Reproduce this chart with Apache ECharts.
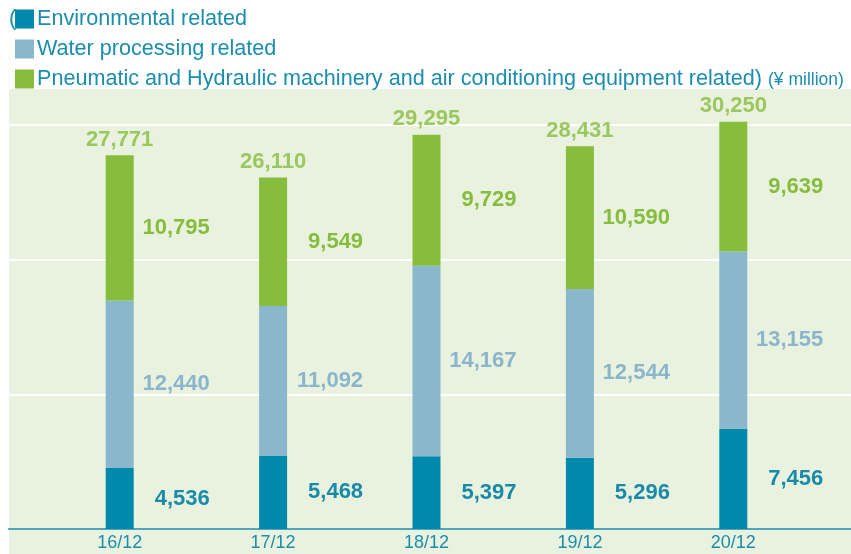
<!DOCTYPE html>
<html>
<head>
<meta charset="utf-8">
<script src="https://cdn.jsdelivr.net/npm/echarts@6/dist/echarts.min.js"></script>
<style>
    html, body { margin: 0; padding: 0; background: #ffffff; }
    #salesChart { width: 851px; height: 554px; }
</style>
</head>
<body>
<div id="salesChart"></div>
<script>
    const categories = ['16/12', '17/12', '18/12', '19/12', '20/12']
    const environmental = [4536, 5468, 5397, 5296, 7456]
    const water = [12440, 11092, 14167, 12544, 13155]
    const pneumatic = [10795, 9549, 9729, 10590, 9639]
    const totals = [27771, 26110, 29295, 28431, 30250]

    const names = [
        'Environmental related',
        'Water processing related',
        'Pneumatic and Hydraulic machinery and air conditioning equipment related'
    ]

    const teal = '#1b8dad'
    const fmt = (v) => Number(v).toLocaleString('en-US')
    const yMax = 32690

    function segLabel (color) {
        return {
            show: true,
            position: 'right',
            distance: 76,
            align: 'right',
            color: color,
            fontSize: 22,
            fontWeight: 'bold',
            fontFamily: 'Liberation Sans, Arial, sans-serif',
            formatter: (p) => fmt(p.value)
        }
    }

    const myChart = echarts.init(document.getElementById('salesChart'))
    const option = {
        animation: false,
        textStyle: { fontFamily: 'Liberation Sans, Arial, sans-serif' },
        graphic: [
            {
                type: 'rect',
                z: -10,
                shape: { x: 9, y: 89, width: 842, height: 465 },
                style: { fill: '#e9f2df' }
            },
            {
                type: 'text',
                left: 9,
                top: 8,
                style: { text: '(', fill: teal, fontSize: 21.6, fontFamily: 'Liberation Sans, Arial, sans-serif' }
            }
        ],
        legend: {
            orient: 'vertical',
            left: 15,
            top: 8,
            padding: 0,
            itemWidth: 19,
            itemHeight: 19,
            itemGap: 8,
            icon: 'rect',
            selectedMode: false,
            data: names,
            textStyle: {
                color: teal,
                fontSize: 21.6,
                lineHeight: 21,
                padding: [0, 0, 0, -2],
                rich: {
                    u: { color: teal, fontSize: 17.5, padding: [3, 0, 0, 0] }
                }
            },
            formatter: (name) => name === names[2] ? name + ') {u|(¥ million)}' : name
        },
        grid: [
            { left: 43, right: 41, top: 89, bottom: 25 },
            { left: 9, right: 0, top: 89, bottom: 25 }
        ],
        xAxis: [
            {
                type: 'category',
                gridIndex: 0,
                data: categories,
                axisLine: { show: false },
                axisTick: { show: false },
                axisLabel: { color: teal, fontSize: 18, margin: 5 }
            },
            {
                type: 'value',
                gridIndex: 1,
                min: 0,
                max: 1,
                axisLine: { show: true, lineStyle: { color: '#4ea5bc', width: 2 } },
                axisTick: { show: false },
                axisLabel: { show: false },
                splitLine: { show: false }
            }
        ],
        yAxis: [
            {
                type: 'value',
                gridIndex: 0,
                min: 0,
                max: yMax,
                show: false,
                splitLine: { show: false }
            },
            {
                type: 'value',
                gridIndex: 1,
                min: 0,
                max: yMax,
                interval: 10000,
                axisLine: { show: false },
                axisTick: { show: false },
                axisLabel: { show: false },
                splitLine: {
                    show: true,
                    showMinLine: false,
                    showMaxLine: false,
                    lineStyle: { color: '#ffffff', width: 2 }
                }
            }
        ],
        series: [
            {
                name: names[0],
                type: 'bar',
                stack: 'total',
                barWidth: 28,
                data: environmental,
                itemStyle: { color: '#0089ab' },
                label: segLabel('#1a8aaa')
            },
            {
                name: names[1],
                type: 'bar',
                stack: 'total',
                barWidth: 28,
                data: water,
                itemStyle: { color: '#8ab7cb' },
                label: segLabel('#8ab5ca')
            },
            {
                name: names[2],
                type: 'bar',
                stack: 'total',
                barWidth: 28,
                data: pneumatic,
                itemStyle: { color: '#86bd3d' },
                label: segLabel('#86bd3d')
            },
            {
                name: 'total',
                type: 'scatter',
                symbolSize: 1,
                data: totals,
                itemStyle: { color: 'rgba(0,0,0,0)' },
                label: {
                    show: true,
                    position: 'top',
                    distance: 4,
                    color: '#86bd3d',
                    fontSize: 22,
                    fontWeight: 'bold',
                    formatter: (p) => fmt(p.value)
                }
            }
        ]
    }
    myChart.setOption(option)
</script>
</body>
</html>
